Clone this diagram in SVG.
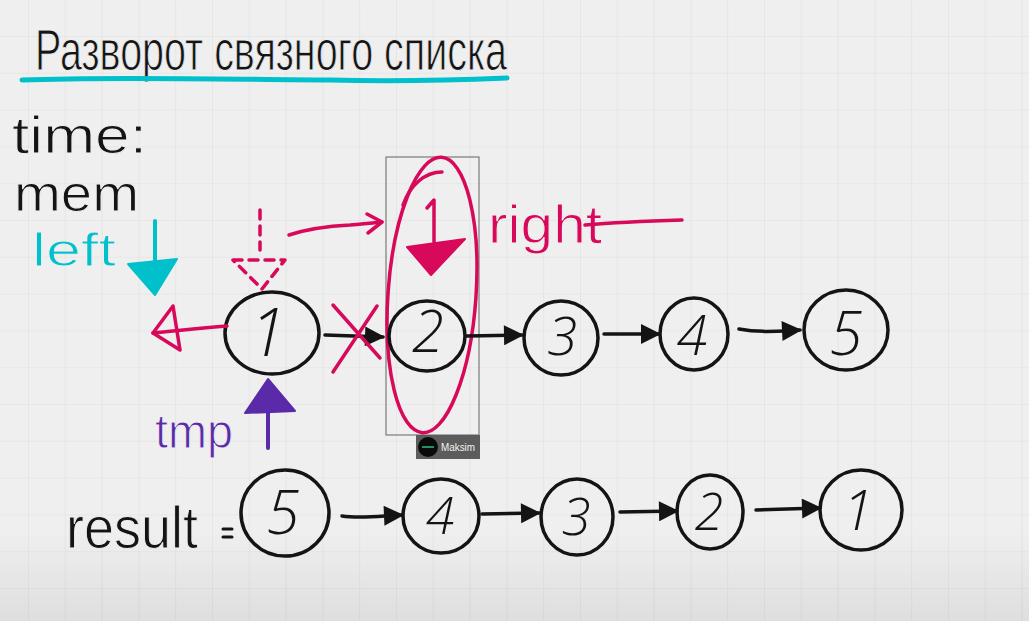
<svg xmlns="http://www.w3.org/2000/svg" width="1029" height="621" viewBox="0 0 1029 621">
<style>
.hand{font-family:"Liberation Sans",Arial,sans-serif;font-weight:normal;stroke:#efefef;stroke-width:1}
.blk{fill:#141414}
.pk{fill:#d8085a}
.cy{fill:#00c0cc}
.pu{fill:#5a2aa8}
.node{fill:none;stroke:#141414;stroke-width:3.5}
.dig{font-family:"Open Sans","Liberation Sans",sans-serif;font-weight:300;font-style:italic;fill:#141414;text-anchor:middle}
.con{fill:none;stroke:#141414;stroke-width:3.5;stroke-linecap:round}
.pks{fill:none;stroke:#d8085a;stroke-width:3.5;stroke-linecap:round;stroke-linejoin:round}
</style>
<defs>
<pattern id="grid" patternUnits="userSpaceOnUse" x="28" y="36" width="36.8" height="36.8">
<path d="M0,0 H36.8 M0,0 V36.8" stroke="#dfdfdf" stroke-width="1.2" fill="none"/>
</pattern>
<linearGradient id="shade" x1="0" y1="0" x2="0" y2="1">
<stop offset="0" stop-color="#000" stop-opacity="0"/>
<stop offset="1" stop-color="#000" stop-opacity="0.07"/>
</linearGradient>
<marker id="ah" viewBox="0 0 10 10" refX="9" refY="5" markerWidth="22" markerHeight="20" markerUnits="userSpaceOnUse" orient="auto">
<path d="M0,0 L10,5 L0,10 Z" fill="#141414"/>
</marker>
</defs>
<rect width="1029" height="621" fill="#efefef"/>
<rect width="1029" height="621" fill="url(#grid)"/>
<rect x="0" y="530" width="1029" height="91" fill="url(#shade)"/>

<g id="title">
<text class="hand blk" x="35" y="70" font-size="58" textLength="472" lengthAdjust="spacingAndGlyphs">Разворот связного списка</text>
<path d="M22,80 C120,76 250,80 330,80 C400,82 460,80 507,78" fill="none" stroke="#00c0cc" stroke-width="5" stroke-linecap="round"/>
</g>
<g id="time"><text class="hand blk" x="12" y="153" font-size="52" textLength="135" lengthAdjust="spacingAndGlyphs">time:</text></g>
<g id="mem"><text class="hand blk" x="14" y="211" font-size="52" textLength="125" lengthAdjust="spacingAndGlyphs">mem</text></g>

<g id="left-pointer">
<text class="hand cy" x="32" y="266" font-size="46" textLength="84" lengthAdjust="spacingAndGlyphs">left</text>
<path d="M155,221 V262" stroke="#00c0cc" stroke-width="4" stroke-linecap="round"/>
<path d="M128,264 L177,259 L155,295 Z" fill="#00c0cc" stroke="#00c0cc" stroke-width="2" stroke-linejoin="round"/>
</g>

<g id="dashed-pointer">
<path d="M260,210 V250" class="pks" stroke-dasharray="9,7"/>
<path d="M233,260 H285 L262,289 Z" class="pks" stroke-dasharray="9,7"/>
<path d="M289,235 C310,228 330,226 350,225 C362,224 372,223 382,222" class="pks" stroke-width="3"/>
<path d="M367,214 L382,222 L368,233" class="pks" stroke-width="3"/>
</g>

<g id="right-pointer">
<path d="M427,208 L434,200 V242" class="pks" stroke-width="4"/>
<path d="M407,247 L465,239 L431,275 Z" fill="#d8085a" stroke="#d8085a" stroke-width="2" stroke-linejoin="round"/>
<text class="hand pk" x="488" y="243" font-size="54" textLength="114" lengthAdjust="spacingAndGlyphs">right</text>
<path d="M585,225 C620,222 650,221 682,220" class="pks" stroke-width="3"/>
</g>

<g id="tmp-pointer">
<text class="hand pu" x="155" y="448" font-size="48" textLength="78" lengthAdjust="spacingAndGlyphs">tmp</text>
<path d="M268,395 V448" stroke="#5a2aa8" stroke-width="4" stroke-linecap="round"/>
<path d="M245,413 L295,411 L268,379 Z" fill="#5a2aa8" stroke="#5a2aa8" stroke-width="2" stroke-linejoin="round"/>
</g>

<g id="highlight">
<rect x="386" y="157" width="93" height="278" fill="none" stroke="#7a7a7a" stroke-width="1.2"/>
<ellipse cx="432" cy="295" rx="44" ry="138" transform="rotate(4 432 295)" fill="none" stroke="#d8085a" stroke-width="3.5"/>
<path d="M442,172 C425,172 410,185 403,205" class="pks" stroke-width="3"/>
</g>

<g id="badge">
<rect x="416" y="435" width="64" height="24" fill="#5c5c5c"/>
<circle cx="428" cy="447" r="10" fill="#0a0a0a"/>
<path d="M422,447 H434" stroke="#2ec27e" stroke-width="1.5"/>
<text x="441" y="451" font-family="'Liberation Sans',Arial,sans-serif" font-size="10.5" fill="#f2f2f2" textLength="34" lengthAdjust="spacingAndGlyphs">Maksim</text>
</g>

<g id="n1"><ellipse class="node" cx="272" cy="333" rx="47" ry="41"/><text class="dig" x="268" y="356" font-size="66">1</text></g>
<g id="n2"><ellipse class="node" cx="427" cy="336" rx="38" ry="35"/><text class="dig" x="428" y="352" font-size="58">2</text></g>
<g id="n3"><ellipse class="node" cx="561" cy="338" rx="37" ry="37"/><text class="dig" x="562" y="355" font-size="54">3</text></g>
<g id="n4"><ellipse class="node" cx="694" cy="334" rx="34" ry="36"/><text class="dig" x="692" y="355" font-size="56">4</text></g>
<g id="n5"><ellipse class="node" cx="846" cy="330" rx="42" ry="40"/><text class="dig" x="846" y="355" font-size="60">5</text></g>

<g id="result">
<text class="hand blk" x="66" y="548" font-size="60" textLength="132" lengthAdjust="spacingAndGlyphs">result</text>
<path d="M223,529 H232 M223,537 H232" stroke="#141414" stroke-width="3" stroke-linecap="round"/>
</g>
<g id="r5"><ellipse class="node" cx="285" cy="513" rx="44" ry="43"/><text class="dig" x="283" y="534" font-size="60">5</text></g>
<g id="r4"><ellipse class="node" cx="441" cy="516" rx="38" ry="37"/><text class="dig" x="440" y="534" font-size="52">4</text></g>
<g id="r3"><ellipse class="node" cx="577" cy="517" rx="36" ry="38"/><text class="dig" x="576" y="535" font-size="52">3</text></g>
<g id="r2"><ellipse class="node" cx="710" cy="512" rx="33" ry="37"/><text class="dig" x="709" y="530" font-size="52">2</text></g>
<g id="r1"><ellipse class="node" cx="861" cy="510" rx="41" ry="40"/><text class="dig" x="858" y="530" font-size="56">1</text></g>

<g id="connectors">
<path class="con" d="M325,335 L383,337" marker-end="url(#ah)"/>
<path class="con" d="M467,336 L522,335" marker-end="url(#ah)"/>
<path class="con" d="M604,334 L659,334" marker-end="url(#ah)"/>
<path class="con" d="M739,329 C760,333 780,331 800,330" marker-end="url(#ah)"/>
<path class="con" d="M342,516 C360,519 380,516 402,515" marker-end="url(#ah)"/>
<path class="con" d="M482,514 L539,513" marker-end="url(#ah)"/>
<path class="con" d="M620,512 L677,511" marker-end="url(#ah)"/>
<path class="con" d="M756,510 L820,508" marker-end="url(#ah)"/>
<path class="pks" d="M227,326 C200,328 175,331 153,333"/>
<path class="pks" d="M173,306 L153,333 L180,350 Z"/>
<path class="pks" stroke-width="3" d="M333,305 L380,358 M377,306 L333,372"/>
</g>
</svg>
